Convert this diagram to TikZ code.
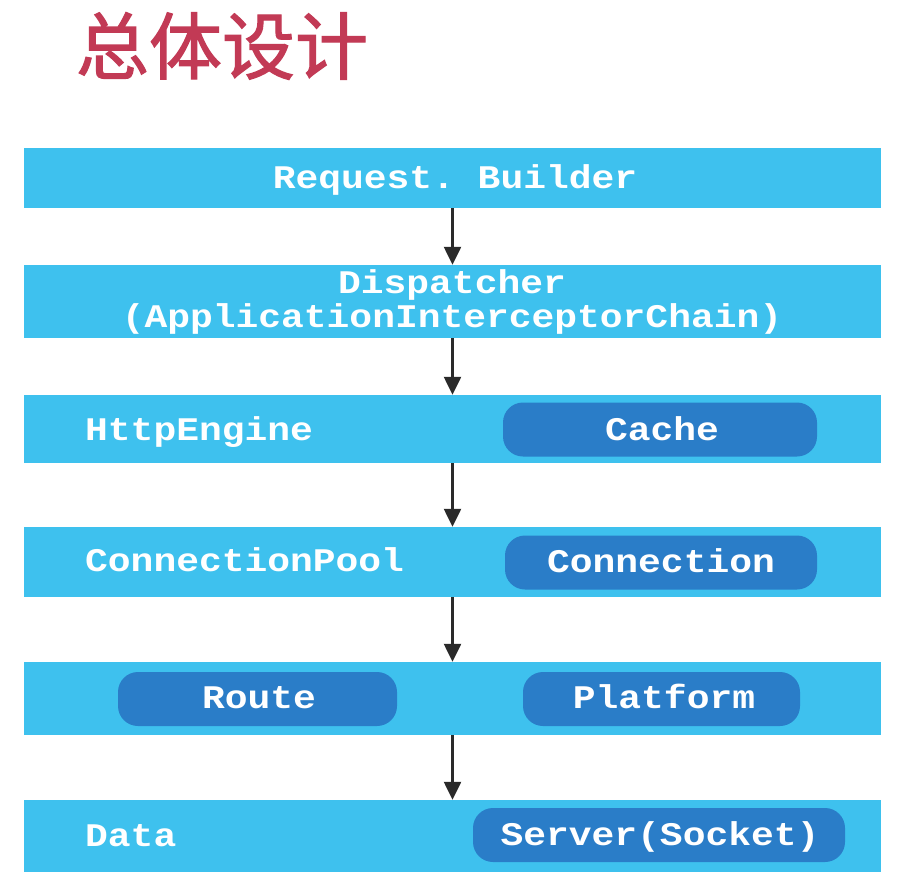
\documentclass[tikz,border=0pt]{standalone}
\usepackage{fontspec}
\setmonofont[FakeStretch=1.15]{Liberation Mono}
\newfontfamily\cjk[FakeBold=1.6]{Noto Sans CJK SC}
\usetikzlibrary{arrows.meta}
\definecolor{barblue}{HTML}{3EC1EE}
\definecolor{boxblue}{HTML}{2A7DC8}
\definecolor{titlered}{HTML}{C23A55}
\definecolor{arrowgray}{HTML}{2A2A2A}
\tikzset{
  layer/.style={fill=barblue, draw=none, minimum width=857pt, inner sep=0pt},
  part/.style={fill=boxblue, draw=none, rounded corners=20pt, minimum height=54pt, inner sep=0pt},
  lbl/.style={text=white, font=\ttfamily\bfseries\fontsize{33}{33}\selectfont,
    inner sep=0pt, text height=21pt, text depth=0pt},
  flow/.style={draw=arrowgray, line width=2.4pt, -{Triangle[length=18pt,width=17pt]}}
}
\begin{document}
\begin{tikzpicture}[x=1pt,y=-1pt]
\useasboundingbox (0,0) rectangle (912,886);
\fill[white] (0,0) rectangle (912,886);

% title
\node[text=titlered, font=\cjk\fontsize{73}{80}\selectfont, anchor=center, inner sep=0pt] (title) at (222,46) {总体设计};

% layers
\node[layer, minimum height=60pt] (b1) at (452.5,178) {};
\node[layer, minimum height=73pt] (b2) at (452.5,301.5) {};
\node[layer, minimum height=68pt] (b3) at (452.5,429) {};
\node[layer, minimum height=70pt] (b4) at (452.5,562) {};
\node[layer, minimum height=73pt] (b5) at (452.5,698.5) {};
\node[layer, minimum height=72pt] (b6) at (452.5,836) {};

% layer texts
\node[lbl] (t2a) at (452,283) {Dispatcher};
\node[lbl] (t2b) at (452,317) {(ApplicationInterceptorChain)};
\node[lbl] (t1) at (455,178) {Request. Builder};
\node[lbl, anchor=west] (t3) at (85,430) {HttpEngine};
\node[lbl, anchor=west] (t4) at (85,561) {ConnectionPool};
\node[lbl, anchor=west] (t6) at (85,836) {Data};

% inner parts
\node[part, minimum width=314pt] (cache) at (660,429.5) {};
\node[lbl] at (662,430) {Cache};
\node[part, minimum width=312pt] (conn) at (661,562.5) {};
\node[lbl] at (661,562) {Connection};
\node[part, minimum width=279pt] (route) at (257.5,699) {};
\node[lbl] at (259,698) {Route};
\node[part, minimum width=277pt] (plat) at (661.5,699) {};
\node[lbl] at (664,698) {Platform};
\node[part, minimum width=372pt] (server) at (659,835) {};
\node[lbl] at (660,835) {Server(Socket)};

% flow between layers
\draw[flow] (b1.south) -- (b2.north);
\draw[flow] (b2.south) -- (b3.north);
\draw[flow] (b3.south) -- (b4.north);
\draw[flow] (b4.south) -- (b5.north);
\draw[flow] (b5.south) -- (b6.north);
\end{tikzpicture}
\end{document}
